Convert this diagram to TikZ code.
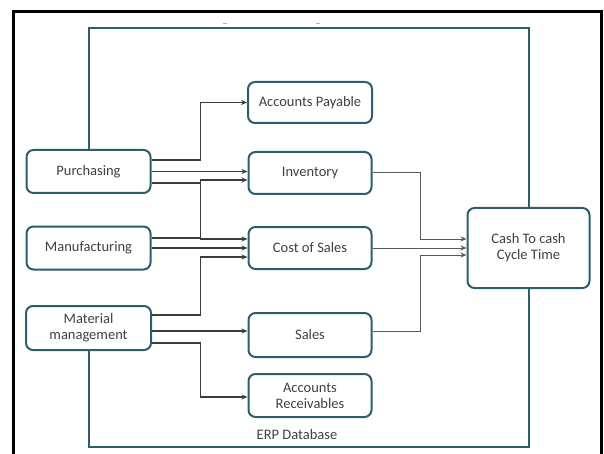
\documentclass[tikz,border=0pt]{standalone}
\usepackage{fontspec}
\setmainfont{Carlito}
\usetikzlibrary{arrows.meta}

\definecolor{erpblau}{HTML}{2F5D70}
\definecolor{linie}{HTML}{3C3C3C}
\definecolor{schrift}{HTML}{404040}

\tikzset{
    kasten/.style={draw=erpblau, line width=2pt, rounded corners=7pt, fill=white,
        text=schrift, align=center, inner sep=2pt,
        font=\fontsize{14.5}{16}\selectfont},
    pfeil/.style={draw=linie, line width=1.3pt, -{Stealth[length=6pt,width=5pt]}},
    duenn/.style={pfeil, draw=linie!85, line width=1pt},
    rahmen/.style={draw=erpblau, line width=2pt}
}

\begin{document}
\begin{tikzpicture}[x=1pt, y=-1pt]
    \useasboundingbox (0,0) rectangle (604,454);
    % outer black border
    \draw[line width=3pt] (13.5,454) -- (13.5,11.5) -- (601.5,11.5) -- (601.5,454);
    \draw[gray!60, line width=1pt] (223,23.5) -- (227,23.5) (316,23.5) -- (320,23.5);

    % source departments
    \path node[kasten, minimum width=124pt, minimum height=43pt] (Pur) at (88.5,171.5) {Purchasing}
        node[kasten, minimum width=124pt, minimum height=43pt] (Man) at (88.5,248) {Manufacturing}
        node[kasten, minimum width=125pt, minimum height=44pt] (Mat) at (88.5,328) {Material\\management};
    % accounts
    \path node[kasten, minimum width=124pt, minimum height=41pt] (AP) at (310,102.5) {Accounts Payable}
        node[kasten, minimum width=123pt, minimum height=42pt] (Inv) at (310,173) {Inventory}
        node[kasten, minimum width=123pt, minimum height=42pt] (CoS) at (310,248) {Cost of Sales}
        node[kasten, minimum width=123pt, minimum height=44pt] (Sal) at (310,335) {Sales}
        node[kasten, minimum width=123pt, minimum height=43pt] (AR) at (310,395.5) {Accounts\\Receivables};
    \node[kasten, minimum width=122pt, minimum height=80pt] (Cash) at (528.5,248) {Cash To cash\\Cycle Time};

    % ERP database frame
    \coordinate (obenrechts) at (528.5,28);
    \coordinate (untenrechts) at (528.5,446.5);
    \draw[rahmen] (Pur.north) |- (obenrechts) -- (Cash.north);
    \draw[rahmen] (Mat.south) |- (untenrechts) -- (Cash.south);
    \node[text=schrift, font=\fontsize{14.5}{16}\selectfont] (ERP) at (297,435) {ERP Database};

    % departments to accounts
    \draw[pfeil] ([yshift=11.5pt]Pur.east) -- ++(49,0) |- (AP.west);
    \draw[pfeil] (Pur.east) -- (Pur.east -| Inv.west);
    \draw[pfeil] ([yshift=-11.5pt]Pur.east) -- ++(49,0) |- ([yshift=9pt]CoS.west);
    \draw[pfeil] ([yshift=10pt]Man.east) -- ++(49,0) |- ([yshift=-7pt]Inv.west);
    \draw[pfeil] (Man.east) -- (Man.east -| CoS.west);
    \draw[pfeil] ([yshift=13pt]Mat.east) -- ++(48.5,0) |- ([yshift=-9pt]CoS.west);
    \draw[pfeil] ([yshift=-3pt]Mat.east) -- ([yshift=-3pt]Mat.east -| Sal.west);
    \draw[pfeil] ([yshift=-15pt]Mat.east) -- ++(48.5,0) |- ([yshift=-1.5pt]AR.west);

    % accounts to cash cycle
    \draw[duenn] (Inv.east) -- ++(48,0) |- ([yshift=9pt]Cash.west);
    \draw[duenn] (CoS.east) -- (Cash.west);
    \draw[duenn] ([yshift=4pt]Sal.east) -- ++(48,0) |- ([yshift=-7pt]Cash.west);
\end{tikzpicture}
\end{document}
